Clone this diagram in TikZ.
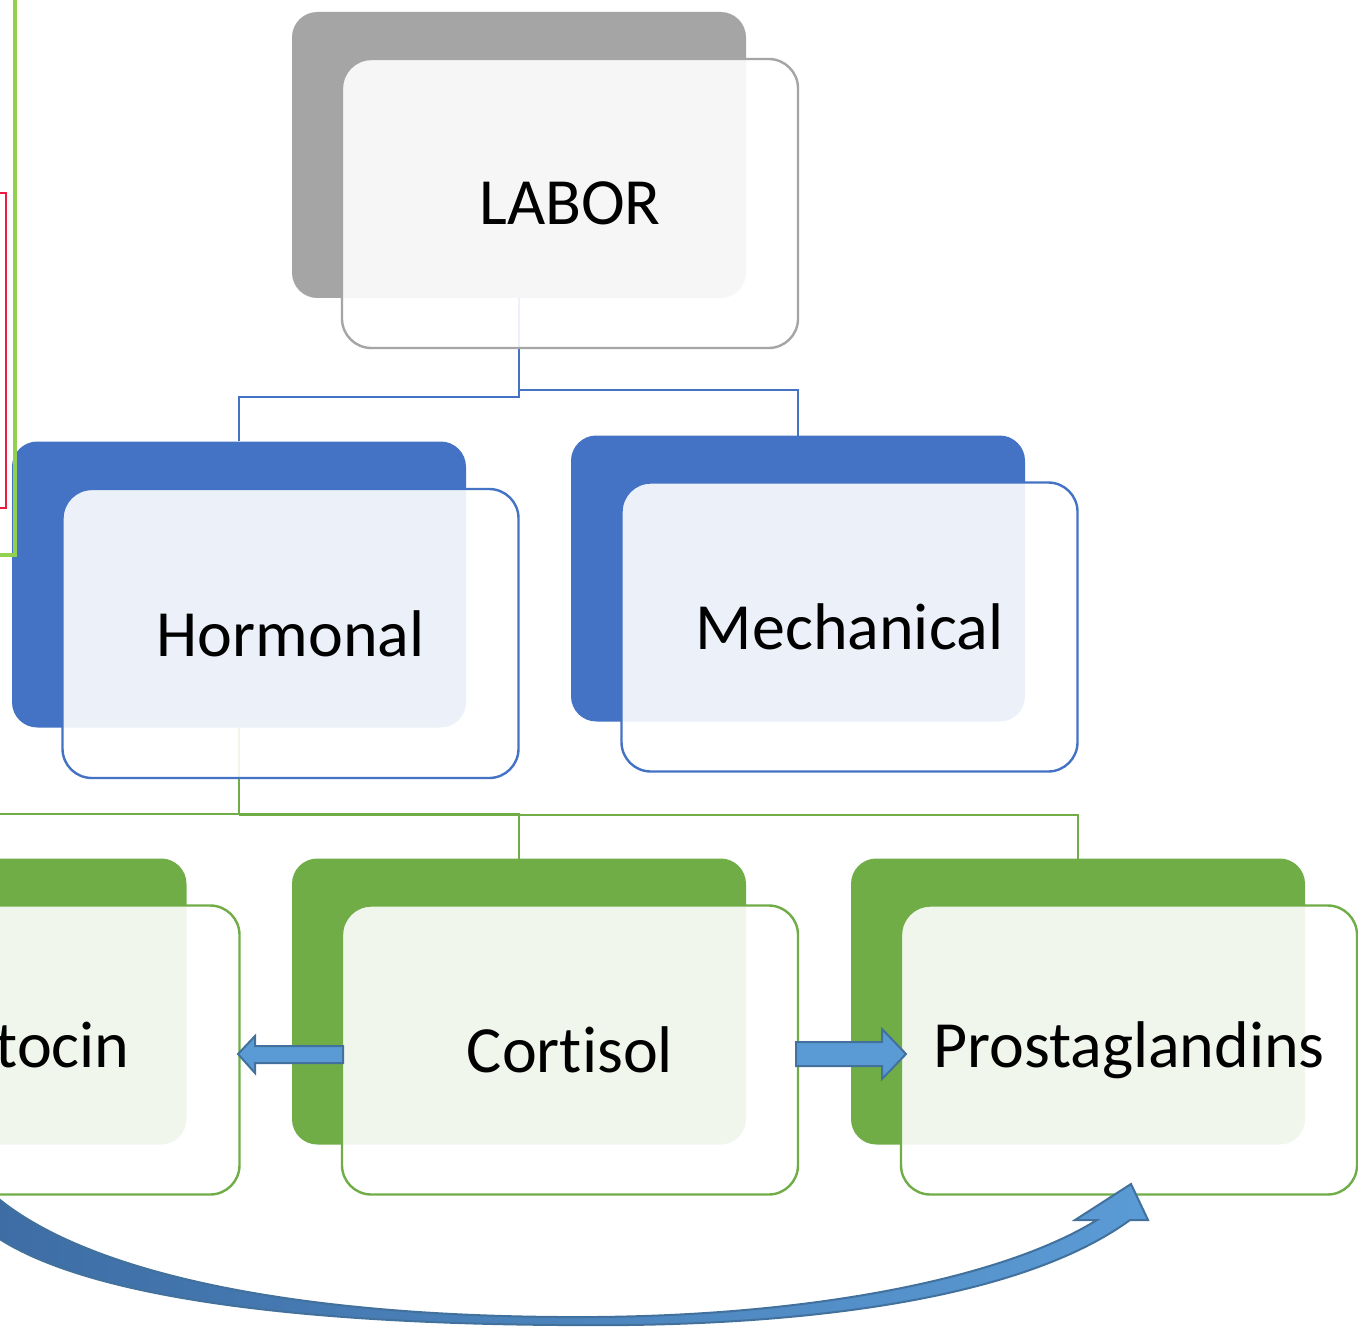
\documentclass[tikz,border=0pt]{standalone}
\usepackage{fontspec}
\setmainfont{Carlito}[RawFeature=-liga]
\usetikzlibrary{calc}
\definecolor{gback}{HTML}{A5A5A5}
\definecolor{bback}{HTML}{4472C4}
\definecolor{grback}{HTML}{70AD47}
\definecolor{arrfill}{HTML}{5B9BD5}
\definecolor{arredge}{HTML}{41719C}
\definecolor{arrdark}{HTML}{3D6CA3}
\definecolor{limeline}{HTML}{92D050}
\definecolor{redline}{HTML}{EC1C40}

\begin{document}
\begin{tikzpicture}[x=0.75pt,y=-0.75pt,
  backbox/.style={rounded corners=19pt, minimum width=340.5pt, minimum height=214.5pt,
                  inner sep=0pt, draw=none},
  frontbox/.style={rounded corners=22pt, minimum width=342pt, minimum height=216.75pt,
                   inner sep=0pt, fill=white, fill opacity=0.9, text opacity=1,
                   line width=1.8pt, font=\fontsize{49.5}{59}\selectfont},
  bluecon/.style={draw=bback, line width=1.8pt},
  greencon/.style={draw=grback, line width=1.8pt},
  blockarrow/.style={fill=arrfill, draw=arredge, line width=1.5pt, line join=miter}]

\useasboundingbox (0,0) rectangle (1358,1333);
\clip (0,0) rectangle (1358,1333);
\fill[white] (0,0) rectangle (1358,1333);

% anchor points of the boxes (back layer and front layer)
\coordinate (Lbc) at (519,155);   \coordinate (Lfc) at (570,203.5);
\coordinate (Hbc) at (239,584.5); \coordinate (Hfc) at (290.5,633.5);
\coordinate (Mbc) at (798,578.5); \coordinate (Mfc) at (849.5,627);
\coordinate (Obc) at (-40.5,1001.5); \coordinate (Ofc) at (11.5,1050);
\coordinate (Cbc) at (519,1001.5);   \coordinate (Cfc) at (570,1050);
\coordinate (Pbc) at (1078,1001.5);  \coordinate (Pfc) at (1129,1050);

% back layer
\node[backbox, fill=gback]  (Lb) at (Lbc) {};
\node[backbox, fill=bback]  (Hb) at (Hbc) {};
\node[backbox, fill=bback]  (Mb) at (Mbc) {};
\node[backbox, fill=grback] (Ob) at (Obc) {};
\node[backbox, fill=grback] (Cb) at (Cbc) {};
\node[backbox, fill=grback] (Pb) at (Pbc) {};

% tree connectors
\draw[bluecon] (Lb.south) -- ++(0,99) -| (Hb.north);
\draw[bluecon] (Lb.south) ++(0,92) -| ([yshift=-3pt]Mb.north);
\draw[greencon] (Hb.south) -- ++(0,86) -| (Ob.north);
\draw[greencon] (Hb.south) ++(0,86) -| ([yshift=-2pt]Cb.north);
\draw[greencon] (Hb.south) ++(0,87) -| ([yshift=-2pt]Pb.north);

% front layer with labels
\node[frontbox, draw=gback]  (Lf) at (Lfc) {LABOR};
\node[frontbox, draw=bback]  (Hf) at (Hfc) {Hormonal};
\node[frontbox, draw=bback]  (Mf) at (Mfc) {Mechanical};
\node[frontbox, draw=grback] (Of) at (Ofc) {Oxytocin};
\node[frontbox, draw=grback] (Cf) at (Cfc) {Cortisol};
\node[frontbox, draw=grback] (Pf) at (Pfc) {Prostaglandins};

% block arrows between the hormone boxes
\draw[blockarrow] (343,1046) -- (255,1046) -- (255,1036) -- (238,1054)
  -- (255,1073) -- (255,1063) -- (343,1063) -- cycle;
\draw[blockarrow] (796,1042) -- (882,1042) -- (882,1029) -- (906,1054)
  -- (882,1079) -- (882,1066) -- (796,1066) -- cycle;

% curved arrow under the bottom row
\shadedraw[left color=arrdark, right color=arrfill, draw=arredge, line width=1.5pt, line join=miter]
  (-30,1170) .. controls (40,1260) and (250,1315) .. (560,1317)
  .. controls (800,1319) and (1000,1280) .. (1097,1220)
  -- (1075,1220) -- (1131,1184) -- (1148,1220) -- (1130,1220)
  .. controls (1020,1300) and (800,1328) .. (560,1325)
  .. controls (260,1323) and (40,1290) .. (-30,1215) -- cycle;

% frames entering from the left edge
\draw[redline, line width=2.2pt] (-60,193) -- (6,193) -- (6,508) -- (-60,508);
\draw[limeline, line width=3pt] (15,-20) -- (15,555) -- (-60,555);

\end{tikzpicture}
\end{document}
